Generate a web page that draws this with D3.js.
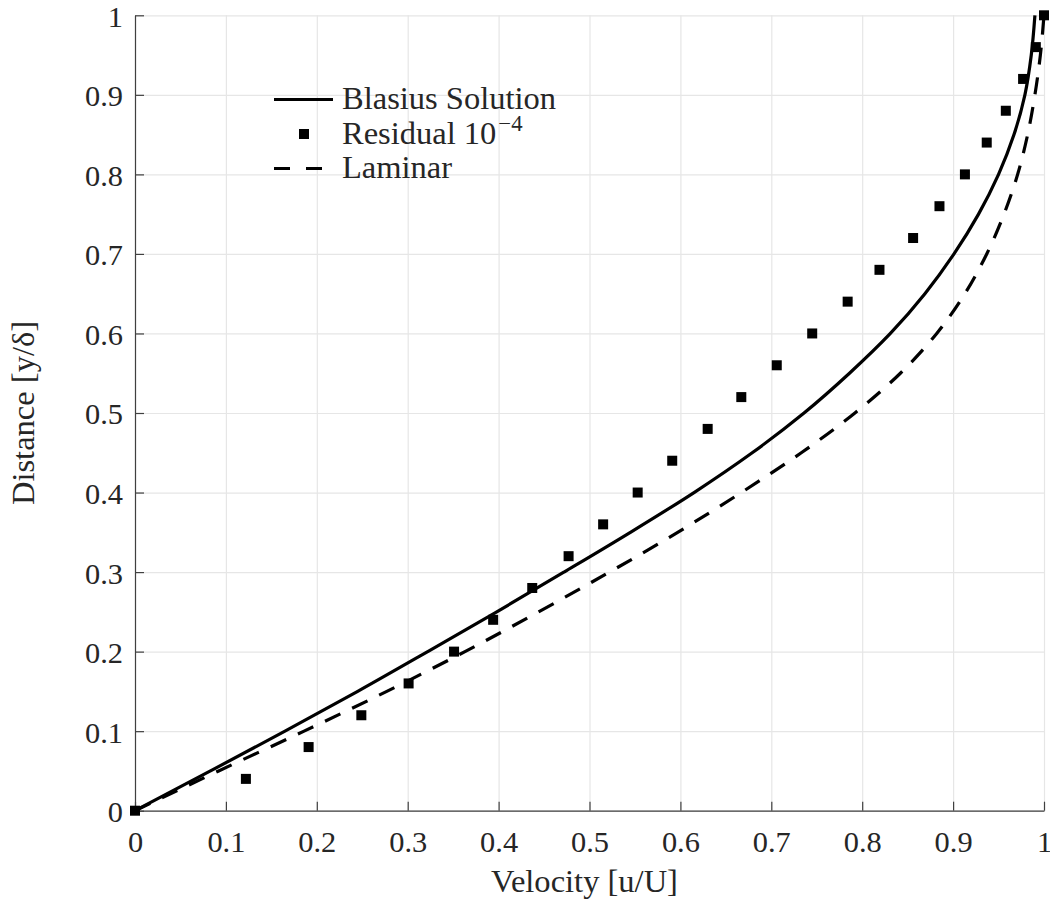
<!DOCTYPE html>
<html>
<head>
<meta charset="utf-8">
<script src="https://cdn.jsdelivr.net/npm/d3@7"></script>
<style>
  html, body { margin: 0; padding: 0; background: #fff; }
  svg { display: block; }
  text { font-family: "Liberation Serif", "DejaVu Serif", "Noto Serif", "Times New Roman", serif; fill: #262626; }
</style>
</head>
<body>
<svg id="chart" width="1050" height="905"></svg>
<script>
// Wall-normal stations (y/δ) at which the two continuous profiles are sampled
const etaGrid = [0, 0.05, 0.1, 0.15, 0.2, 0.25, 0.3, 0.35, 0.4, 0.45, 0.5,
                 0.55, 0.6, 0.65, 0.7, 0.75, 0.8, 0.85, 0.9, 0.95, 1.0];

// Blasius similarity profile, u/U
const blasiusU = [0, 0.083, 0.165, 0.245, 0.322, 0.398, 0.472, 0.545, 0.615, 0.679, 0.736,
                  0.786, 0.831, 0.869, 0.901, 0.928, 0.950, 0.967, 0.979, 0.986, 0.990];

// Laminar profile, u/U
const laminarU = [0, 0.092, 0.186, 0.277, 0.363, 0.444, 0.522, 0.597, 0.667, 0.733, 0.792,
                  0.842, 0.882, 0.913, 0.937, 0.956, 0.971, 0.982, 0.990, 0.996, 1.0];

// Solver output at residual 1e-4
const residualEta = [0, 0.04, 0.08, 0.12, 0.16, 0.2, 0.24, 0.28, 0.32, 0.36, 0.4, 0.44, 0.48,
                     0.52, 0.56, 0.6, 0.64, 0.68, 0.72, 0.76, 0.8, 0.84, 0.88, 0.92, 0.96, 1.0];
const residualU = [0, 0.122, 0.191, 0.249, 0.301, 0.351, 0.394, 0.437, 0.477, 0.515, 0.553, 0.591, 0.630,
                   0.667, 0.706, 0.745, 0.784, 0.819, 0.856, 0.885, 0.913, 0.937, 0.958, 0.977, 0.991, 1.0];

// Axis ticks
const xTicks = [0, 0.1, 0.2, 0.3, 0.4, 0.5, 0.6, 0.7, 0.8, 0.9, 1];
const xTickLabels = ["0", "0.1", "0.2", "0.3", "0.4", "0.5", "0.6", "0.7", "0.8", "0.9", "1"];
const yTicks = [0, 0.1, 0.2, 0.3, 0.4, 0.5, 0.6, 0.7, 0.8, 0.9, 1];
const yTickLabels = ["0", "0.1", "0.2", "0.3", "0.4", "0.5", "0.6", "0.7", "0.8", "0.9", "1"];

const seriesNames = ["Blasius Solution", "Residual", "Laminar"];

const svg = d3.select("#chart");
const plot = { left: 135, right: 1044, top: 15.3, bottom: 810.7 };
const W = plot.right - plot.left, H = plot.bottom - plot.top;

// Pick a font size so a sample string spans a given width in whichever serif face is available
const FAMILY = '"Liberation Serif", "DejaVu Serif", "Noto Serif", "Times New Roman", serif';
const ctx = document.createElement("canvas").getContext("2d");
function fitSize(str, width) {
  ctx.font = `100px ${FAMILY}`;
  const w = ctx.measureText(str).width;
  return Math.max(18, Math.min(34, 100 * width / w));
}
const TICK_FONT = fitSize("0.5", 38);
const LABEL_FONT = fitSize("Velocity [u/U]", 187);
const LEGEND_FONT = fitSize("Blasius Solution", 214);

const x = d3.scaleLinear().domain([0, 1]).range([plot.left, plot.right]);
const y = d3.scaleLinear().domain([0, 1]).range([plot.bottom, plot.top]);

// Grid
const grid = svg.append("g");
grid.append("g")
  .attr("transform", `translate(0,${plot.bottom})`)
  .call(d3.axisBottom(x).tickValues(xTicks).tickSize(-H).tickFormat(""))
  .call(g => g.select(".domain").remove())
  .call(g => g.selectAll("line").attr("stroke", "#e6e6e6").attr("stroke-width", 1.2));
grid.append("g")
  .attr("transform", `translate(${plot.left},0)`)
  .call(d3.axisLeft(y).tickValues(yTicks).tickSize(-W).tickFormat(""))
  .call(g => g.select(".domain").remove())
  .call(g => g.selectAll("line").attr("stroke", "#e6e6e6").attr("stroke-width", 1.2));

// Axes with inward ticks
const xAxis = svg.append("g")
  .attr("transform", `translate(0,${plot.bottom})`)
  .call(d3.axisBottom(x).tickValues(xTicks).tickSizeInner(-9).tickSizeOuter(0)
        .tickFormat((d, i) => xTickLabels[i]));
const yAxis = svg.append("g")
  .attr("transform", `translate(${plot.left},0)`)
  .call(d3.axisLeft(y).tickValues(yTicks).tickSizeInner(-9).tickSizeOuter(0)
        .tickFormat((d, i) => yTickLabels[i]));

[xAxis, yAxis].forEach(a => {
  a.attr("font-family", null).attr("font-size", null);
  a.select(".domain").attr("stroke", "#404040").attr("stroke-width", 1.2);
  a.selectAll(".tick line").attr("stroke", "#404040").attr("stroke-width", 1.2);
  a.selectAll(".tick text")
    .style("font-family", FAMILY)
    .style("font-size", TICK_FONT + "px")
    .attr("fill", "#262626");
});
xAxis.selectAll(".tick text").attr("y", 41).attr("dy", null);
yAxis.selectAll(".tick text").attr("x", -12).attr("dy", "0.36em");

// Axis titles
svg.append("text")
  .attr("x", (plot.left + plot.right) / 2 - 5)
  .attr("y", 892)
  .attr("text-anchor", "middle")
  .style("font-size", LABEL_FONT + "px")
  .text("Velocity [u/U]");
svg.append("text")
  .attr("transform", `translate(34,${(plot.top + plot.bottom) / 2}) rotate(-90)`)
  .attr("text-anchor", "middle")
  .style("font-size", LABEL_FONT + "px")
  .text("Distance [y/δ]");

// Profiles
const profileLine = d3.line()
  .x(d => x(d[0]))
  .y(d => y(d[1]))
  .curve(d3.curveMonotoneY);

svg.append("path")
  .datum(d3.zip(blasiusU, etaGrid))
  .attr("d", profileLine)
  .attr("fill", "none")
  .attr("stroke", "#000")
  .attr("stroke-width", 3.2);

const MS = 10;
svg.append("g").selectAll("rect")
  .data(d3.zip(residualU, residualEta))
  .join("rect")
  .attr("x", d => x(d[0]) - MS / 2)
  .attr("y", d => y(d[1]) - MS / 2)
  .attr("width", MS)
  .attr("height", MS)
  .attr("fill", "#000");

svg.append("path")
  .datum(d3.zip(laminarU, etaGrid))
  .attr("d", profileLine)
  .attr("fill", "none")
  .attr("stroke", "#000")
  .attr("stroke-width", 3.2)
  .attr("stroke-dasharray", "17,13");

// Legend
const legend = svg.append("g");
const rows = [99.5, 134, 168.5];
const textX = 342;

legend.append("line")
  .attr("x1", 274).attr("x2", 333).attr("y1", rows[0]).attr("y2", rows[0])
  .attr("stroke", "#000").attr("stroke-width", 3.2);
legend.append("rect")
  .attr("x", 304 - MS / 2).attr("y", rows[1] - MS / 2)
  .attr("width", MS).attr("height", MS).attr("fill", "#000");
legend.append("line")
  .attr("x1", 274).attr("x2", 322).attr("y1", rows[2]).attr("y2", rows[2])
  .attr("stroke", "#000").attr("stroke-width", 3.2)
  .attr("stroke-dasharray", "16,16");

legend.append("text").attr("x", textX).attr("y", rows[0] + 9.5)
  .style("font-size", LEGEND_FONT + "px").text(seriesNames[0]);
const resText = legend.append("text").attr("x", textX).attr("y", rows[1] + 9.5)
  .style("font-size", LEGEND_FONT + "px");
resText.append("tspan").text(seriesNames[1] + " 10");
resText.append("tspan").attr("dx", 2).attr("dy", -13)
  .style("font-size", (LEGEND_FONT * 0.7) + "px").text("−4");
legend.append("text").attr("x", textX).attr("y", rows[2] + 9.5)
  .style("font-size", LEGEND_FONT + "px").text(seriesNames[2]);
</script>
</body>
</html>
